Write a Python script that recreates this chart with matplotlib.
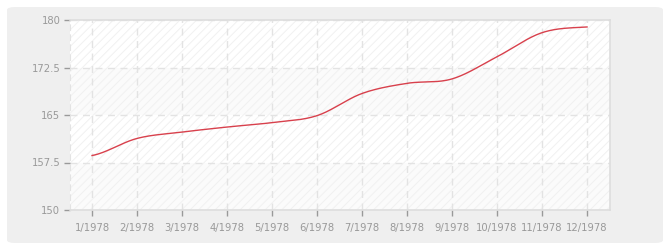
import numpy as np
import matplotlib
matplotlib.use("Agg")
import matplotlib.pyplot as plt
from matplotlib.patches import FancyBboxPatch

# data
mesice = ["1/1978", "2/1978", "3/1978", "4/1978", "5/1978", "6/1978",
          "7/1978", "8/1978", "9/1978", "10/1978", "11/1978", "12/1978"]
hodnoty = [158.6, 161.3, 162.3, 163.1, 163.8, 164.9,
           168.4, 170.0, 170.7, 174.2, 178.0, 178.9]
y_ticks = [150, 157.5, 165, 172.5, 180]
y_labels = ["150", "157.5", "165", "172.5", "180"]


def hladka_krivka(y, kroku=30):
    # cardinal (catmull-rom) spline jen pro vykresleni hladke cary
    y = np.asarray(y, dtype=float)
    n = len(y)
    xs, ys = [], []
    for i in range(n - 1):
        p0 = y[i - 1] if i > 0 else y[i]
        p1, p2 = y[i], y[i + 1]
        p3 = y[i + 2] if i + 2 < n else y[i + 1]
        t = np.linspace(0, 1, kroku, endpoint=False)
        m1 = (p2 - p0) / 2
        m2 = (p3 - p1) / 2
        h00 = 2 * t**3 - 3 * t**2 + 1
        h10 = t**3 - 2 * t**2 + t
        h01 = -2 * t**3 + 3 * t**2
        h11 = t**3 - t**2
        xs.append(i + t)
        ys.append(h00 * p1 + h10 * m1 + h01 * p2 + h11 * m2)
    xs.append([n - 1])
    ys.append([y[-1]])
    return np.concatenate(xs), np.concatenate(ys)


plt.rcParams["hatch.linewidth"] = 0.7
fig = plt.figure(figsize=(6.7, 2.5), dpi=100)

# sedy podklad se zaoblenymi rohy
box = FancyBboxPatch((7 / 670, 7 / 250), 656 / 670, 236 / 250,
                     boxstyle="round,pad=0,rounding_size=0.012",
                     transform=fig.transFigure, facecolor="#efefef",
                     edgecolor="none", zorder=-10)
fig.patches.append(box)

ax = fig.add_axes([70 / 670, 40 / 250, 540 / 670, 190 / 250])
ax.set_zorder(5)
ax.set_facecolor("white")
ax.set_xlim(-0.49, 11.51)
ax.set_ylim(150, 180)

# pruhy na pozadi
for i in range(len(y_ticks) - 1):
    barva = "white" if i % 2 == 1 else "#fbfbfb"
    ax.axhspan(y_ticks[i], y_ticks[i + 1], facecolor=barva,
               edgecolor="#f1f1f1", hatch="////", linewidth=0, zorder=0)

ax.grid(True, color="#e3e3e3", linestyle=(0, (5, 4)), linewidth=1)
ax.set_axisbelow(True)

x, y = hladka_krivka(hodnoty)
ax.plot(x, y, color="#d8404c", linewidth=1.0, zorder=3)

ax.set_xticks(range(len(mesice)))
ax.set_xticklabels(mesice)
ax.set_yticks(y_ticks)
ax.set_yticklabels(y_labels)
ax.tick_params(colors="#999999", labelsize=7.2, length=4, width=1, pad=3)
ax.tick_params(axis="x", pad=5)

for s in ["top", "right", "bottom"]:
    ax.spines[s].set_color("#dddddd")
    ax.spines[s].set_linewidth(1.2)
ax.spines["left"].set_color("#e3e3e3")
ax.spines["left"].set_linestyle((0, (5, 4)))

fig.savefig("out.png", dpi=100, facecolor="white")
